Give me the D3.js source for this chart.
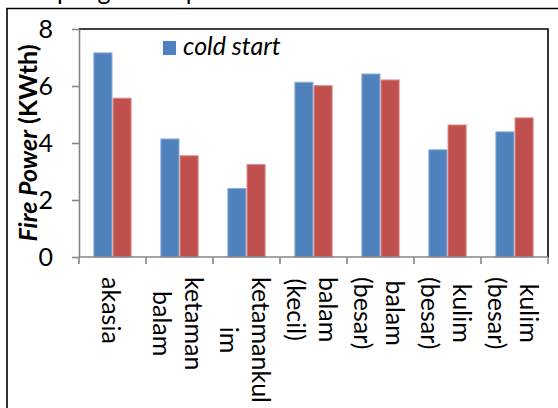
<!DOCTYPE html>
<html>
<head>
<meta charset="utf-8">
<script src="https://cdn.jsdelivr.net/npm/d3@7/dist/d3.min.js"></script>
<style>
  html, body { margin: 0; padding: 0; background: #fff; }
  svg { display: block; }
  text { font-family: Lato, "Open Sans", sans-serif; fill: #000; }
</style>
</head>
<body>
<svg id="chart" width="558" height="408"></svg>
<script>
// Category labels, one entry per wrapped line
const categoryLines = [
  ["akasia"],
  ["ketaman", "balam"],
  ["ketamankul", "im"],
  ["balam", "(kecil)"],
  ["balam", "(besar)"],
  ["kulim", "(besar)"],
  ["kulim", "(besar)"]
];
const seriesNames = ["cold start", "hot start"];
const coldStart = [7.18, 4.16, 2.42, 6.15, 6.44, 3.78, 4.41];
const hotStart  = [5.59, 3.57, 3.26, 6.03, 6.23, 4.65, 4.90];
const yTicks = [0, 2, 4, 6, 8];
const seriesColors = ["#4F81BD", "#C0504D"];
const seriesEdges  = ["#8db0dc", "#de8f8d"];

const svg = d3.select("#chart");
const W = 558, H = 408;
const plot = { left: 79, right: 548, top: 29, bottom: 257 };
const FS = 25;

svg.append("rect").attr("width", W).attr("height", H).attr("fill", "#fff");

// heading above the frame, mostly cut off by the top edge
svg.append("text")
  .attr("x", 17).attr("y", 0)
  .style("font-size", FS + "px")
  .text("Simpangan fire power");

// outer chart frame
svg.append("path")
  .attr("d", `M7,${H + 2} L7,8.5 L${W + 2},8.5`)
  .attr("fill", "none").attr("stroke", "#000").attr("stroke-width", 1.6);

const idx = d3.range(categoryLines.length);
const x0 = d3.scaleBand().domain(idx).range([plot.left, plot.right]).padding(0);
const x1 = d3.scaleBand().domain(seriesNames).range([0, x0.bandwidth()])
  .paddingInner(0).paddingOuter(0.75);
const y = d3.scaleLinear().domain([0, 8]).range([plot.bottom, plot.top]);

// plot area border (top and right)
svg.append("path")
  .attr("d", `M${plot.left},${plot.top} L${plot.right},${plot.top} L${plot.right},${plot.bottom}`)
  .attr("fill", "none").attr("stroke", "#000").attr("stroke-width", 1.6);

// bars
const seriesData = [coldStart, hotStart];
seriesNames.forEach((s, si) => {
  svg.append("g").selectAll("rect")
    .data(idx)
    .join("rect")
    .attr("x", i => x0(i) + x1(s) + 0.5)
    .attr("y", i => y(seriesData[si][i]) + 0.5)
    .attr("width", x1.bandwidth() - 1)
    .attr("height", i => y(0) - y(seriesData[si][i]) - 0.5)
    .attr("fill", seriesColors[si])
    .attr("stroke", seriesEdges[si])
    .attr("stroke-width", 1);
});

// y axis
const yAxis = svg.append("g")
  .attr("transform", `translate(${plot.left},0)`)
  .call(d3.axisLeft(y).tickValues(yTicks).tickSize(7).tickSizeOuter(0).tickPadding(19));
yAxis.select(".domain").attr("stroke", "#868686").attr("stroke-width", 1.6);
yAxis.selectAll(".tick line").attr("stroke", "#868686").attr("stroke-width", 1.6);
yAxis.selectAll(".tick text")
  .style("font-size", FS + "px")
  .style("font-family", "Lato, sans-serif")
  .attr("fill", "#000");

// x axis line and category boundary ticks
const xAxis = svg.append("g");
xAxis.append("line")
  .attr("x1", plot.left).attr("x2", plot.right)
  .attr("y1", plot.bottom).attr("y2", plot.bottom)
  .attr("stroke", "#868686").attr("stroke-width", 1.6);
const bounds = idx.map(i => x0(i)).concat([x0(idx[idx.length - 1]) + x0.bandwidth()]);
xAxis.selectAll("line.tk")
  .data(bounds)
  .join("line")
  .attr("class", "tk")
  .attr("x1", d => d).attr("x2", d => d)
  .attr("y1", plot.bottom).attr("y2", plot.bottom + 7)
  .attr("stroke", "#868686").attr("stroke-width", 1.6);

// rotated, centred, multi-line category labels
const lineGap = 32;
idx.forEach(i => {
  const lines = categoryLines[i];
  const cx = x0(i) + x0.bandwidth() / 2;
  const g = svg.append("g")
    .attr("transform", `translate(${cx},277) rotate(90)`);
  const texts = lines.map((ln, li) => g.append("text")
    .style("font-size", FS + "px")
    .attr("y", 10.5 + (li - (lines.length - 1) / 2) * lineGap)
    .attr("text-anchor", "middle")
    .text(ln));
  const maxW = d3.max(texts, t => t.node().getComputedTextLength());
  texts.forEach(t => t.attr("x", maxW / 2));
});

// y axis title
const title = svg.append("text")
  .attr("transform", `translate(37,${(plot.top + plot.bottom) / 2}) rotate(-90)`)
  .attr("text-anchor", "middle")
  .style("font-size", FS + "px")
  .style("font-weight", "bold");
title.append("tspan").style("font-style", "italic").text("Fire Power");
title.append("tspan").text(" (KWth)");

// legend (first series)
const legend = svg.append("g");
legend.append("rect")
  .attr("x", 163).attr("y", 41).attr("width", 13).attr("height", 14)
  .attr("fill", seriesColors[0]);
legend.append("text")
  .attr("x", 183).attr("y", 55)
  .style("font-size", FS + "px")
  .style("font-style", "italic")
  .text(seriesNames[0]);
</script>
</body>
</html>
